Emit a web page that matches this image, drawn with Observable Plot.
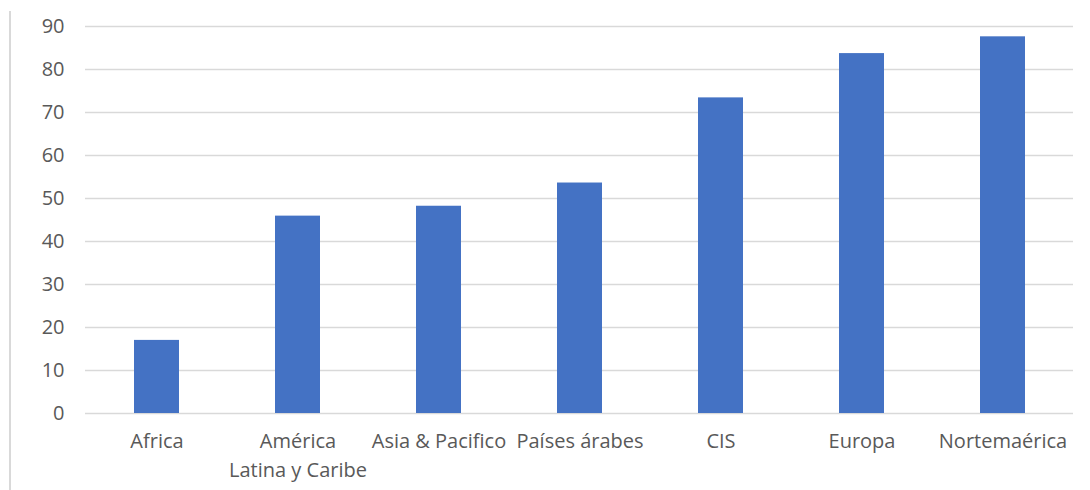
<!DOCTYPE html>
<html>
<head>
<meta charset="utf-8">
<script src="https://cdn.jsdelivr.net/npm/d3@7"></script>
<script src="https://cdn.jsdelivr.net/npm/@observablehq/plot@0.6"></script>
<style>
  html, body { margin: 0; padding: 0; background: #fff; }
  #wrap { position: relative; width: 1090px; height: 490px; }
  #border { position: absolute; left: 9px; top: 11px; bottom: 0; width: 2px; background: #d9d9d9; }
</style>
</head>
<body>
<div id="wrap"><div id="border"></div><div id="chart"></div></div>
<script>
const categories = ["Africa", "América\nLatina y Caribe", "Asia & Pacifico", "Países árabes", "CIS", "Europa", "Nortemaérica"];
const values = [17.0, 45.9, 48.2, 53.6, 73.4, 83.7, 87.6];
const yTicks = [0, 10, 20, 30, 40, 50, 60, 70, 80, 90];

const data = categories.map((c, i) => ({ region: c, value: values[i] }));

const chart = Plot.plot({
  width: 1090,
  height: 490,
  marginLeft: 85,
  marginRight: 17,
  marginTop: 26,
  marginBottom: 77,
  style: { fontFamily: "'Open Sans', sans-serif", fontSize: "20px", color: "#595959", background: "transparent" },
  x: { domain: categories, paddingInner: 0.683, paddingOuter: 0.3415, label: null },
  y: { domain: [0, 90], label: null },
  marks: [
    Plot.gridY(yTicks, { stroke: "#d9d9d9", strokeOpacity: 1, strokeWidth: 1.5 }),
    Plot.barY(data, { x: "region", y: "value", fill: "#4472C4" }),
    Plot.axisY(yTicks, { tickSize: 0, tickPadding: 21, fill: "#595959", fontSize: 20, label: null }),
    Plot.axisX({ tickSize: 0, tickPadding: 14, fill: "#595959", fontSize: 20, lineHeight: 1.45, label: null })
  ]
});
document.getElementById("chart").appendChild(chart);
</script>
</body>
</html>
